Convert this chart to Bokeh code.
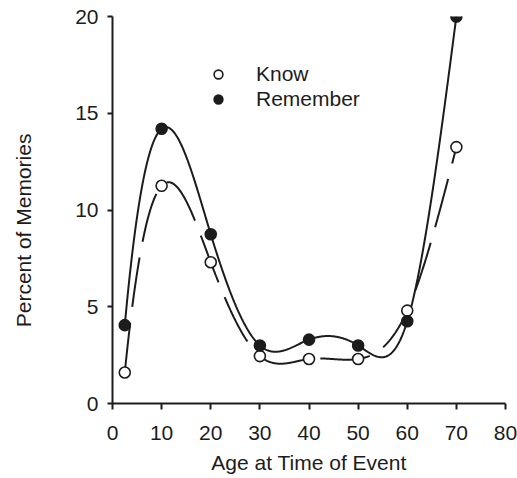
import numpy as np
from bokeh.plotting import figure
from bokeh.models import (Range1d, SingleIntervalTicker, Legend, LegendItem, ColumnDataSource)
from bokeh.embed import file_html
from bokeh.resources import INLINE

# ---- data ----
ages = [2.5, 10, 20, 30, 40, 50, 60, 70]
know = [1.6, 11.25, 7.3, 2.45, 2.3, 2.3, 4.8, 13.25]
remember = [4.05, 14.2, 8.75, 3.0, 3.3, 3.0, 4.25, 20.0]
series_names = ["Know", "Remember"]
x_label = "Age at Time of Event"
y_label = "Percent of Memories"

INK = "#1c1c1c"
FONT = "Liberation Sans"
FS = "21px"


def spline(xs, ys, n=600):
    """Cubic spline drawn through the data points
    (not-a-knot condition at the left end, natural at the right end)."""
    x = np.asarray(xs, float)
    y = np.asarray(ys, float)
    m = len(x)
    h = np.diff(x)
    s = np.diff(y) / h
    A = np.zeros((m, m))
    b = np.zeros(m)
    for i in range(1, m - 1):
        A[i, i - 1] = h[i - 1]
        A[i, i] = 2 * (h[i - 1] + h[i])
        A[i, i + 1] = h[i]
        b[i] = 6 * (s[i] - s[i - 1])
    A[0, 0], A[0, 1], A[0, 2] = h[1], -(h[0] + h[1]), h[0]
    A[-1, -1] = 1
    M = np.linalg.solve(A, b)
    xx = np.linspace(x[0], x[-1], n)
    i = np.clip(np.searchsorted(x, xx, side="right") - 1, 0, m - 2)
    hi = h[i]
    a = x[i + 1] - xx
    c = xx - x[i]
    yy = (M[i] * a ** 3 + M[i + 1] * c ** 3) / (6 * hi) \
        + (y[i] / hi - M[i] * hi / 6) * a + (y[i + 1] / hi - M[i + 1] * hi / 6) * c
    return xx, yy


p = figure(width=517, height=478, output_backend="svg", toolbar_location=None,
           x_range=Range1d(0, 80), y_range=Range1d(0, 20),
           min_border_left=112, min_border_right=12, min_border_top=16,
           min_border_bottom=75)
p.outline_line_color = None
p.xgrid.visible = False
p.ygrid.visible = False
p.background_fill_color = "white"
p.border_fill_color = "white"

for ax, interval, tick_out, standoff in ((p.xaxis[0], 10, 6, 16), (p.yaxis[0], 5, 5, 9)):
    ax.ticker = SingleIntervalTicker(interval=interval)
    ax.axis_line_color = INK
    ax.axis_line_width = 2
    ax.major_tick_line_color = INK
    ax.major_tick_line_width = 2
    ax.major_tick_out = tick_out
    ax.major_tick_in = 0
    ax.minor_tick_line_color = None
    ax.major_label_text_font = FONT
    ax.major_label_text_font_size = FS
    ax.major_label_text_color = INK
    ax.major_label_standoff = standoff
    ax.axis_label_text_font = FONT
    ax.axis_label_text_font_size = FS
    ax.axis_label_text_font_style = "normal"
    ax.axis_label_text_color = INK

p.xaxis[0].axis_label = x_label
p.xaxis[0].axis_label_standoff = 8
# trailing no-break spaces push the visible label a little below the axis middle
p.yaxis[0].axis_label = y_label + "\u00a0" * 7
p.yaxis[0].axis_label_standoff = 37

rx, ry = spline(ages, remember)
kx, ky = spline(ages, know)
p.line(rx, ry, line_color=INK, line_width=2)
p.line(kx, ky, line_color=INK, line_width=2, line_dash="50 16")

src = ColumnDataSource(dict(age=ages, know=know, remember=remember))
rk = p.scatter("age", "know", source=src, size=11, marker="circle",
               fill_color="white", line_color=INK, line_width=1.6)
rr = p.scatter("age", "remember", source=src, size=11, marker="circle",
               fill_color=INK, line_color=INK, line_width=1.6)

legend = Legend(items=[LegendItem(label=series_names[0], renderers=[rk]),
                       LegendItem(label=series_names[1], renderers=[rr])],
                location=(95, 292))
legend.padding = 0
legend.margin = 0
legend.spacing = 1
legend.glyph_width = 22
legend.glyph_height = 22
legend.label_standoff = 27
legend.label_text_font = FONT
legend.label_text_font_size = FS
legend.label_text_color = INK
legend.border_line_color = None
legend.background_fill_alpha = 0
p.add_layout(legend)

open("out.html", "w").write(file_html(p, INLINE))
